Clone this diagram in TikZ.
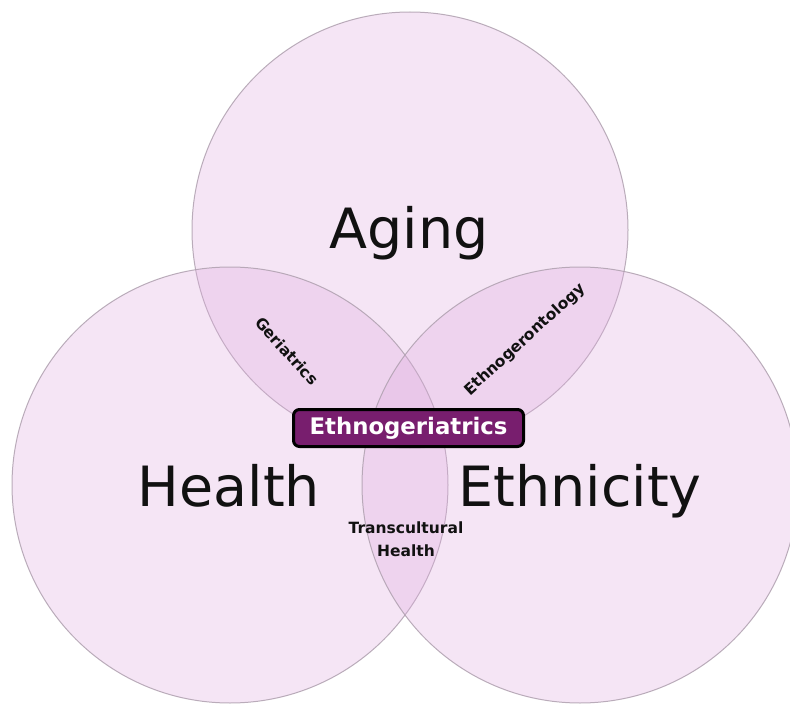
\documentclass[tikz,border=0pt]{standalone}
\usepackage{fontspec}
\setmainfont{DejaVu Sans}
\definecolor{vennfill}{RGB}{224,172,224}
\definecolor{vennline}{RGB}{175,160,175}
\definecolor{corefill}{RGB}{120,30,110}
\definecolor{ink}{RGB}{17,17,17}
\begin{document}
\begin{tikzpicture}[x=1pt,y=-1pt,
  venn/.style={circle, minimum size=436pt, inner sep=0, fill=vennfill, fill opacity=0.3,
    draw=vennline, draw opacity=0.85, line width=1pt},
  bigword/.style={font=\fontsize{55.5}{60}\selectfont, text=ink, inner sep=0, anchor=base},
  overlap/.style={font=\bfseries\fontsize{15.5}{22.7}\selectfont, text=ink, inner sep=0},
  core/.style={draw=black, line width=3pt, rounded corners=6pt, fill=corefill, text=white,
    font=\bfseries\fontsize{22.8}{26}\selectfont, minimum width=230pt, minimum height=37pt, inner sep=0}]
  \fill[white] (0,0) rectangle (790,706);
  \clip (0,0) rectangle (790,706);
  \useasboundingbox (0,0) rectangle (790,706);

  % the three overlapping fields
  \node[venn] (aging) at (410,230) {};
  \node[venn] (health) at (230,485) {};
  \node[venn] (ethnicity) at (580,485) {};

  % field names
  \node[bigword] (agingText) at (409,248.5) {Aging};
  \node[bigword] (healthText) at (229,506.5) {Health};
  \node[bigword] (ethnicityText) at (580,506.5) {Ethnicity};

  % pairwise overlaps
  \node[overlap, rotate=-48] (geriatrics) at (287,351) {Geriatrics};
  \node[overlap, rotate=42.5] (ethnogerontology) at (525,340) {Ethnogerontology};
  \node[overlap, align=center, anchor=base] (transcultural) at (406,556) {Transcultural\\Health};

  % common centre
  \node[core] (ethnogeriatrics) at (408.5,428) {Ethnogeriatrics};
\end{tikzpicture}
\end{document}
